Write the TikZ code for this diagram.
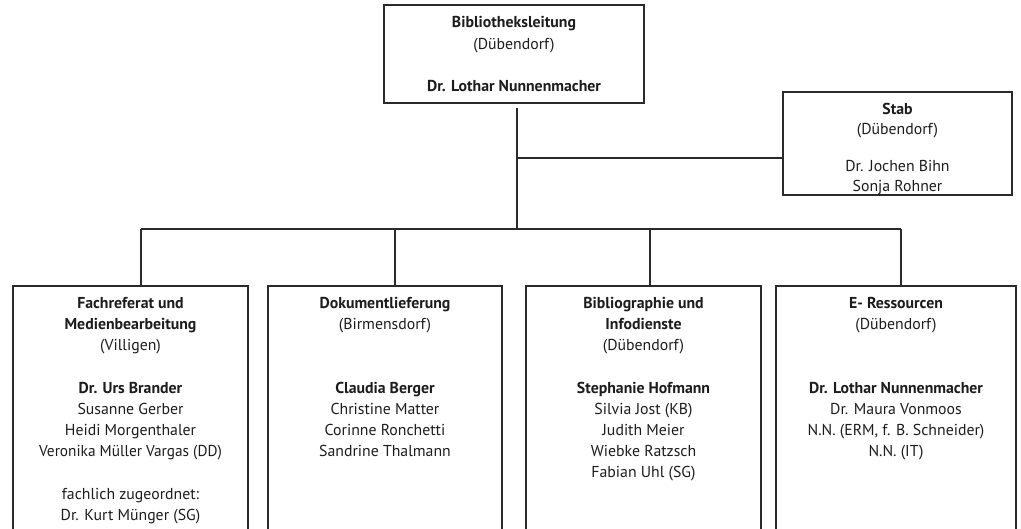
\documentclass[tikz,border=0pt]{standalone}
\usepackage{fontspec}
\setmainfont{PT Sans}
\usetikzlibrary{positioning}
\definecolor{ink}{HTML}{1C1C1C}
\definecolor{rule}{HTML}{2A2A2A}
\tikzset{
  unitbox/.style={draw=rule,line width=1.1pt,inner sep=0pt},
  names/.style={align=center,inner sep=0pt,text=ink,font=\fontsize{15.8}{21.2}\selectfont},
  link/.style={draw=rule,line width=1.1pt}
}
\begin{document}
\begin{tikzpicture}[x=1pt,y=-1pt]
  \useasboundingbox (0,0) rectangle (1021,528);
  \clip (0,0) rectangle (1021,528);
  % leitung and stab
  \node[unitbox,minimum width=260pt,minimum height=98pt] (leit) at (514,54) {};
  \node[names,below=12pt of leit.north] (leittxt)
    {\textbf{Bibliotheksleitung}\\(Dübendorf)\\~\\\textbf{Dr. Lothar Nunnenmacher}};
  \node[unitbox,minimum width=229pt,minimum height=103pt] (stab) at (897.5,143.5) {};
  \node[names,font=\fontsize{15.8}{20}\selectfont,below=12pt of stab.north] (stabtxt)
    {\textbf{Stab}\\(Dübendorf)\\[17pt]Dr. Jochen Bihn\\Sonja Rohner};
  % abteilungen
  \node[unitbox,minimum width=235pt,minimum height=260pt] (fach) at (130.5,416) {};
  \node[unitbox,minimum width=234pt,minimum height=260pt] (dok)  at (385,416) {};
  \node[unitbox,minimum width=235pt,minimum height=260pt] (bib)  at (643.5,416) {};
  \node[unitbox,minimum width=240pt,minimum height=260pt] (eres) at (896,416) {};
  \node[names,below=11.5pt of fach.north] (fachtxt)
    {\textbf{Fachreferat und}\\\textbf{Medienbearbeitung}\\(Villigen)\\~\\
     \textbf{Dr. Urs Brander}\\Susanne Gerber\\Heidi Morgenthaler\\
     \scalebox{0.97}[1]{Veronika Müller Vargas (DD)}\\~\\
     fachlich zugeordnet:\\Dr. Kurt Münger (SG)};
  \node[names,below=11.5pt of dok.north] (doktxt)
    {\textbf{Dokumentlieferung}\\(Birmensdorf)\\~\\~\\
     \textbf{Claudia Berger}\\Christine Matter\\Corinne Ronchetti\\Sandrine Thalmann};
  \node[names,below=11.5pt of bib.north] (bibtxt)
    {\textbf{Bibliographie und}\\\textbf{Infodienste}\\(Dübendorf)\\~\\
     \textbf{Stephanie Hofmann}\\Silvia Jost (KB)\\Judith Meier\\Wiebke Ratzsch\\Fabian Uhl (SG)};
  \node[names,below=11.5pt of eres.north] (erestxt)
    {\textbf{E- Ressourcen}\\(Dübendorf)\\~\\~\\
     \textbf{Dr. Lothar Nunnenmacher}\\Dr. Maura Vonmoos\\N.N. (ERM, f. B. Schneider)\\N.N. (IT)};
  % linien
  \coordinate (stemtop) at (517,108);
  \coordinate (stabjoint) at (517,158);
  \coordinate (hub) at (517,229);
  \draw[link] (stemtop) -- (hub);
  \draw[link] (stabjoint) -- (stabjoint -| stab.west);
  \coordinate (busleft) at (141,229);
  \coordinate (busright) at (901,229);
  \draw[link] (busleft) -- (busright);
  \foreach \n/\x in {fach/141,dok/395,bib/650,eres/901}{
    \coordinate (drop\n) at (\x,229);
    \draw[link] (drop\n) -- (drop\n |- \n.north);
  }
\end{tikzpicture}
\end{document}
